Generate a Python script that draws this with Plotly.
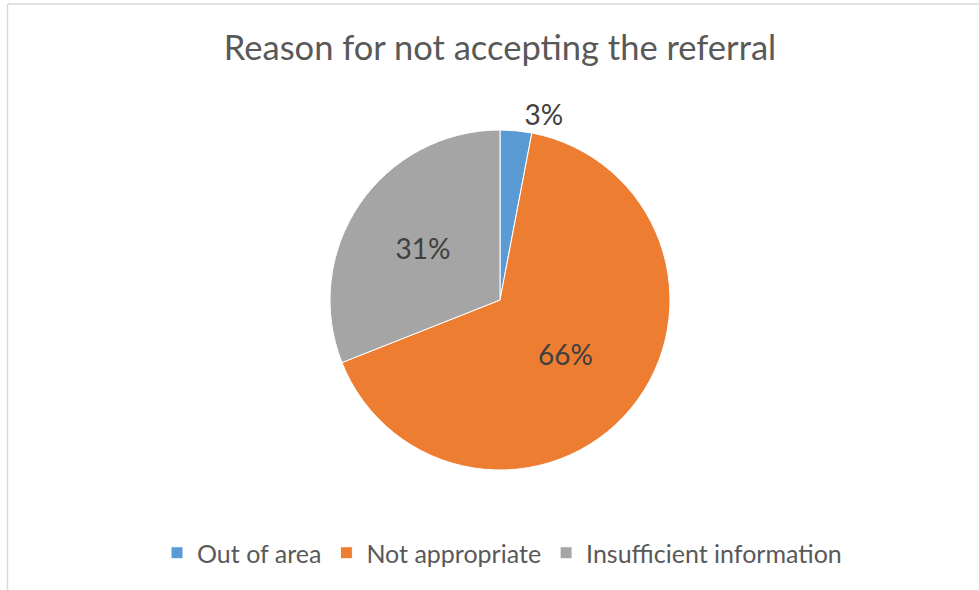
import plotly.graph_objects as go

categories = ["Out of area", "Not appropriate", "Insufficient information"]
values = [3, 66, 31]
colors = ["#5B9BD5", "#ED7D31", "#A5A5A5"]

W, H = 979, 590
cx, cy, r = 500, 300, 170

fig = go.Figure(go.Pie(
    labels=categories,
    values=values,
    sort=False,
    direction="clockwise",
    rotation=0,
    marker=dict(colors=colors, line=dict(color="white", width=1)),
    textinfo="percent",
    texttemplate="%{percent:.0%}",
    textposition=["outside", "inside", "inside"],
    insidetextorientation="horizontal",
    textfont=dict(family="Lato", size=28, color="#404040"),
    outsidetextfont=dict(family="Lato", size=28, color="#404040"),
    domain=dict(x=[(cx - r) / W, (cx + r) / W], y=[1 - (cy + r) / H, 1 - (cy - r) / H]),
    hoverinfo="label+percent",
))

fig.update_layout(
    width=W, height=H,
    margin=dict(l=0, r=0, t=0, b=0),
    paper_bgcolor="white",
    title=dict(text="Reason for not accepting the referral", x=500 / W, xanchor="center",
               y=1 - 48 / H, yanchor="middle",
               font=dict(family="Lato", size=34.5, color="#595959")),
    legend=dict(orientation="h", x=502 / W, xanchor="center", y=1 - 553 / H, yanchor="middle",
                font=dict(family="Lato", size=25, color="#595959"), traceorder="normal"),
    showlegend=True,
    shapes=[
        dict(type="line", xref="paper", yref="paper", x0=7.5 / W, x1=1.0, y0=1 - 4 / H, y1=1 - 4 / H,
             line=dict(color="#D9D9D9", width=1.5)),
        dict(type="line", xref="paper", yref="paper", x0=7.5 / W, x1=7.5 / W, y0=1 - 4 / H, y1=0,
             line=dict(color="#D9D9D9", width=1.5)),
    ],
)

fig.write_html("out.html", config={"displayModeBar": False},
               post_script="document.body.style.margin='0';")
